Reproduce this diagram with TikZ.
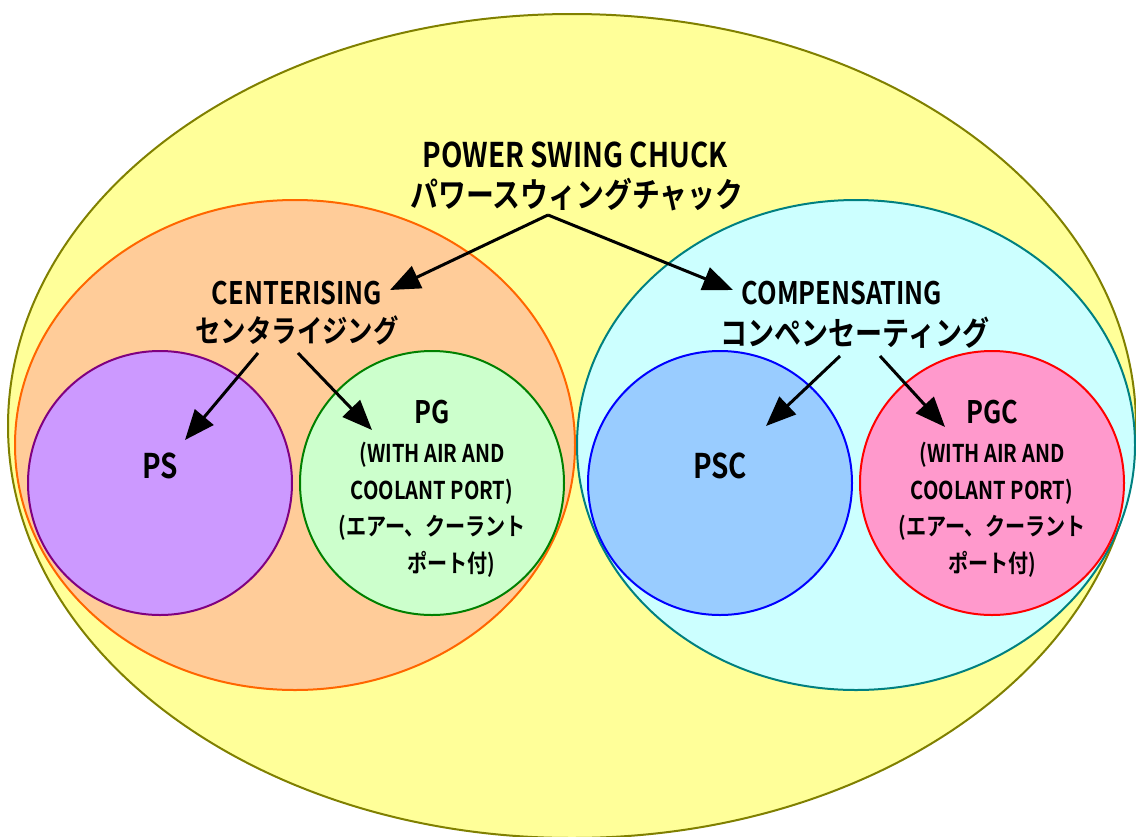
\documentclass[tikz,border=0pt]{standalone}
\usepackage{fontspec}
\setmainfont{Noto Sans CJK JP}[BoldFont={Noto Sans CJK JP Bold},FakeStretch=0.82]
\usetikzlibrary{arrows.meta}
\definecolor{outerfill}{HTML}{FFFF99}
\definecolor{outerline}{HTML}{808000}
\definecolor{cenfill}{HTML}{FFCC99}
\definecolor{cenline}{HTML}{FF6600}
\definecolor{comfill}{HTML}{CCFFFF}
\definecolor{comline}{HTML}{008080}
\definecolor{psfill}{HTML}{CC99FF}
\definecolor{psline}{HTML}{800080}
\definecolor{pgfill}{HTML}{CCFFCC}
\definecolor{pgline}{HTML}{008000}
\definecolor{pscfill}{HTML}{99CCFF}
\definecolor{pscline}{HTML}{0000FF}
\definecolor{pgcfill}{HTML}{FF99CC}
\definecolor{pgcline}{HTML}{FF0000}
\tikzset{
  blob/.style={line width=2pt},
  lbl/.style={font=\bfseries, inner sep=0pt, align=center},
  big/.style={lbl, font=\bfseries\fontsize{34}{36}\selectfont},
  mid/.style={lbl, font=\bfseries\fontsize{31}{33}\selectfont},
  small/.style={lbl, font=\bfseries\fontsize{24.5}{36.5}\selectfont},
  arr/.style={line width=3pt, -{Triangle[length=30pt,width=24pt]}}
}
\begin{document}
\begin{tikzpicture}[x=1pt,y=-1pt]
\useasboundingbox (0,0) rectangle (1136,836);
% regions
\draw[blob, draw=outerline, fill=outerfill] (572,426) ellipse [x radius=564, y radius=412];
\draw[blob, draw=cenline, fill=cenfill] (295,445) ellipse [x radius=280, y radius=245];
\draw[blob, draw=comline, fill=comfill] (856,445) ellipse [x radius=279, y radius=245];
\draw[blob, draw=psline, fill=psfill] (160,483) ellipse [x radius=132, y radius=132];
\draw[blob, draw=pgline, fill=pgfill] (432,483) ellipse [x radius=132, y radius=132];
\draw[blob, draw=pscline, fill=pscfill] (720,483) ellipse [x radius=132, y radius=132];
\draw[blob, draw=pgcline, fill=pgcfill] (992,483) ellipse [x radius=132, y radius=132];
% texts
\node[big] (title) at (575,155) {POWER SWING CHUCK};
\node[big] (titlejp) at (577,195) {パワースウィングチャック};
\node[mid] (cent) at (297,293) {CENTERISING};
\node[mid] (centjp) at (297,330) {センタライジング};
\node[mid] (comp) at (842,293) {COMPENSATING};
\node[mid, font=\bfseries\fontsize{33}{35}\selectfont] (compjp) at (855,333) {コンペンセーティング};
\node[big] (ps) at (160,466) {PS};
\node[big] (psc) at (720,466) {PSC};
\node[mid] (pg) at (432,412) {PG};
\node[small] (pgtxt) at (432,510) {(WITH AIR AND\\COOLANT PORT)\\(エアー、クーラント\\\hspace*{1.6em}ポート付)};
\node[mid] (pgc) at (992,412) {PGC};
\node[small] (pgctxt) at (992,510) {(WITH AIR AND\\COOLANT PORT)\\(エアー、クーラント\\ポート付)};
% connectors
\coordinate (apex) at (548,215);
\coordinate (centtip) at (390,290);
\coordinate (comptip) at (733,290);
\coordinate (cs1) at (258,353);
\coordinate (cs2) at (298,353);
\coordinate (pstip) at (185,440);
\coordinate (pgtip) at (372,430);
\coordinate (cc1) at (840,356);
\coordinate (cc2) at (880,356);
\coordinate (psctip) at (766,426);
\coordinate (pgctip) at (945,427);
\draw[arr] (apex) -- (centtip);
\draw[arr] (apex) -- (comptip);
\draw[arr] (cs1) -- (pstip);
\draw[arr] (cs2) -- (pgtip);
\draw[arr] (cc1) -- (psctip);
\draw[arr] (cc2) -- (pgctip);
\end{tikzpicture}
\end{document}
